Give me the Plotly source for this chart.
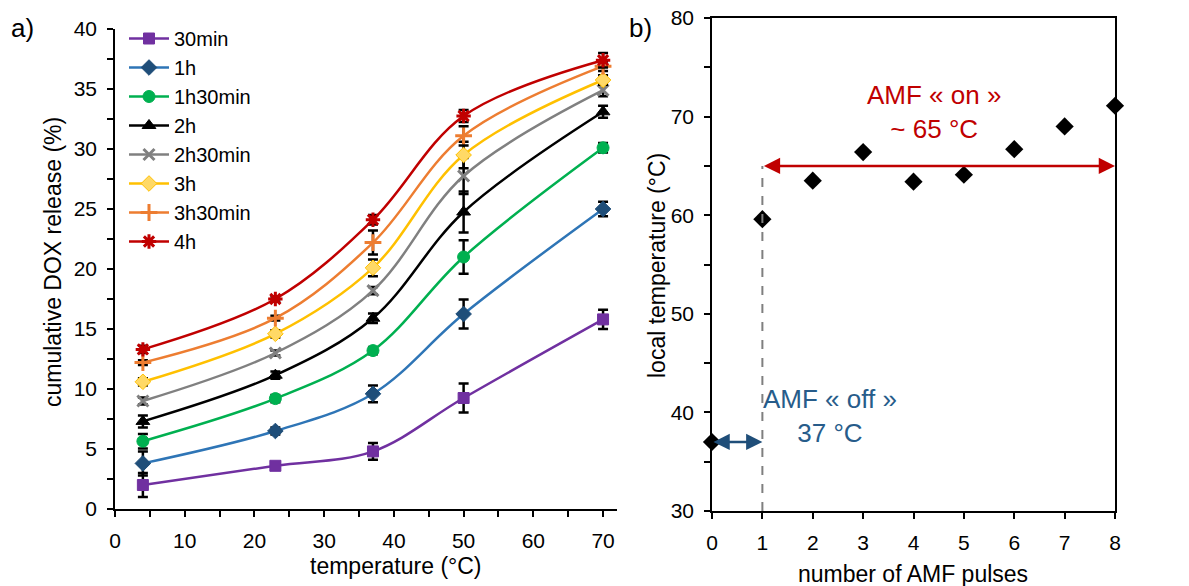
import plotly.graph_objects as go

# panel a: cumulative DOX release vs temperature
temperature = [4, 23, 37, 50, 70]
series_names = ["30min", "1h", "1h30min", "2h", "2h30min", "3h", "3h30min", "4h"]
release = {
    "30min":   [2.0, 3.6, 4.8, 9.25, 15.8],
    "1h":      [3.8, 6.5, 9.6, 16.25, 25.0],
    "1h30min": [5.65, 9.2, 13.2, 21.0, 30.1],
    "2h":      [7.3, 11.15, 15.9, 24.75, 33.1],
    "2h30min": [9.0, 13.0, 18.2, 27.75, 34.9],
    "3h":      [10.6, 14.6, 20.1, 29.5, 35.75],
    "3h30min": [12.2, 15.9, 22.2, 31.1, 36.9],
    "4h":      [13.3, 17.5, 24.1, 32.75, 37.4],
}
release_err = {
    "30min":   [1.0, 0.2, 0.7, 1.2, 0.8],
    "1h":      [1.0, 0.3, 0.7, 1.2, 0.6],
    "1h30min": [0.6, 0.3, 0.3, 1.4, 0.4],
    "2h":      [0.5, 0.3, 0.4, 1.7, 0.5],
    "2h30min": [0.3, 0.2, 0.3, 1.5, 0.5],
    "3h":      [0.3, 0.3, 0.7, 1.1, 0.4],
    "3h30min": [0.2, 0.2, 1.0, 0.8, 0.4],
    "4h":      [0.3, 0.2, 0.4, 0.5, 0.6],
}

# panel b: local temperature vs number of AMF pulses
pulses = [0, 1, 2, 3, 4, 5, 6, 7, 8]
local_temp = [37.0, 59.6, 63.5, 66.4, 63.4, 64.1, 66.7, 69.0, 71.1]
ON_TEMP = 65
OFF_TEMP = 37

styles = {
    "30min":   dict(line="#7030A0", fill="#7030A0", edge="#7030A0", symbol="square", size=11),
    "1h":      dict(line="#2E75B6", fill="#1F4E79", edge="#1F4E79", symbol="diamond", size=12),
    "1h30min": dict(line="#00B050", fill="#00B050", edge="#00B050", symbol="circle", size=12),
    "2h":      dict(line="#000000", fill="#000000", edge="#000000", symbol="triangle-up", size=12),
    "2h30min": dict(line="#808080", fill="#808080", edge="#808080", symbol="x-thin-open", size=11),
    "3h":      dict(line="#FFC000", fill="#FFD966", edge="#FFC000", symbol="diamond", size=12),
    "3h30min": dict(line="#ED7D31", fill="#ED7D31", edge="#ED7D31", symbol="cross-thin-open", size=12),
    "4h":      dict(line="#C00000", fill="#C00000", edge="#C00000", symbol="asterisk-open", size=12),
}

FONT = "Arial, Liberation Sans, sans-serif"
W, H = 1189, 586
OFF = 8  # page body margin of the html output


def px_x(p):
    return (p - OFF) / W


def px_y(p):
    return 1 - (p - OFF) / H


fig = go.Figure()

for name in series_names:
    s = styles[name]
    thin = s["symbol"].endswith("open")
    fig.add_trace(go.Scatter(
        x=temperature, y=release[name], name=name,
        mode="lines+markers",
        line=dict(color=s["line"], width=2.5, shape="spline", smoothing=1),
        marker=dict(symbol=s["symbol"], size=s["size"], color=s["fill"],
                    line=dict(color=s["edge"], width=3 if thin else 1)),
        error_y=dict(type="data", array=release_err[name], color="black",
                     thickness=2.5, width=5),
        xaxis="x", yaxis="y", cliponaxis=False,
    ))

fig.add_trace(go.Scatter(
    x=pulses, y=local_temp, mode="markers", showlegend=False,
    marker=dict(symbol="diamond", size=14, color="black"),
    xaxis="x2", yaxis="y2", cliponaxis=False,
))

minor_ticks = dict(ticks="outside", ticklen=6, tickcolor="black", tickwidth=1.5)
axis_common = dict(
    showline=True, linecolor="black", linewidth=1.5,
    showgrid=False, zeroline=False, automargin=False,
    ticks="outside", ticklen=6, tickcolor="black", tickwidth=1.5,
    tickfont=dict(size=21, color="black", family=FONT),
    ticklabelstandoff=6, ticklabeloverflow="allow",
)

fig.update_layout(
    width=W, height=H,
    margin=dict(l=0, r=0, t=0, b=0),
    paper_bgcolor="white", plot_bgcolor="white",
    font=dict(family=FONT, color="black"),
    showlegend=True,
    legend=dict(x=px_x(124), y=px_y(19), xanchor="left", yanchor="top",
                bgcolor="rgba(0,0,0,0)", font=dict(size=20),
                tracegroupgap=0, itemwidth=40),
    xaxis=dict(axis_common, domain=[px_x(115), px_x(617)], range=[0, 72],
               tickvals=[0, 10, 20, 30, 40, 50, 60, 70],
               minor=dict(minor_ticks, dtick=5), anchor="y"),
    yaxis=dict(axis_common, domain=[px_y(509), px_y(29)], range=[0, 40],
               tickvals=[0, 5, 10, 15, 20, 25, 30, 35, 40],
               minor=dict(minor_ticks, dtick=2.5), anchor="x"),
    xaxis2=dict(axis_common, domain=[px_x(712), px_x(1115)], range=[0, 8],
                tickvals=[0, 1, 2, 3, 4, 5, 6, 7, 8],
                mirror=True, anchor="y2"),
    yaxis2=dict(axis_common, domain=[px_y(511), px_y(18)], range=[30, 80],
                tickvals=[30, 40, 50, 60, 70, 80],
                minor=dict(minor_ticks, dtick=5), mirror=True, anchor="x2"),
)

# dashed marker of the first pulse
fig.add_shape(type="line", xref="x2", yref="y2", x0=1, x1=1, y0=30, y1=ON_TEMP,
              line=dict(color="#7F7F7F", width=2, dash="dash"))

# AMF on / off arrows
fig.add_annotation(xref="x2", yref="y2", axref="x2", ayref="y2",
                   x=8, y=ON_TEMP, ax=1, ay=ON_TEMP, text="",
                   showarrow=True, arrowside="end+start", arrowhead=2,
                   arrowsize=1.3, arrowwidth=2.5, arrowcolor="#C00000")
fig.add_annotation(xref="x2", yref="y2", axref="x2", ayref="y2",
                   x=1, y=OFF_TEMP, ax=0, ay=OFF_TEMP, text="",
                   showarrow=True, arrowside="end+start", arrowhead=2,
                   arrowsize=1.3, arrowwidth=2.5, arrowcolor="#1F4E79")

fig.add_annotation(xref="x2", yref="y2", x=4.4, y=70.5, showarrow=False,
                   xanchor="center", yanchor="middle",
                   text="AMF « on »<br>~ 65 °C",
                   font=dict(size=26, color="#C00000"))
fig.add_annotation(xref="x2", yref="y2", x=2.35, y=39.6, showarrow=False,
                   xanchor="center", yanchor="middle",
                   text="AMF « off »<br>37 °C",
                   font=dict(size=26, color="#275C8A"))


def label(text, x, y, size, angle=0):
    fig.add_annotation(xref="paper", yref="paper", x=px_x(x), y=px_y(y),
                       xanchor="center", yanchor="middle", showarrow=False,
                       text=text, textangle=angle, font=dict(size=size))


# axis titles and panel letters
label("cumulative DOX release (%)", 53, 262, 23, -90)
label("temperature (°C)", 396, 566, 23)
label("local temperature (°C)", 657, 266, 23, -90)
label("number of AMF pulses", 913, 574, 23)
label("a)", 22, 28, 26)
label("b)", 640, 28, 26)

fig.write_html("out.html")
